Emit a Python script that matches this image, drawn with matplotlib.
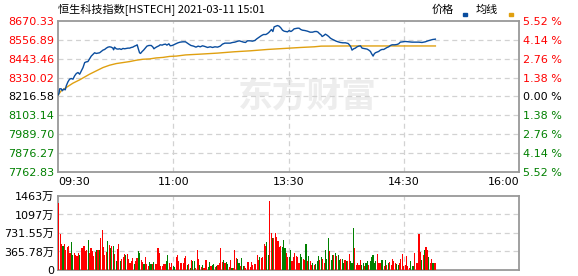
import numpy as np
import matplotlib
matplotlib.use("Agg")
import matplotlib.pyplot as plt
from matplotlib.patches import Rectangle

plt.rcParams['font.family'] = ['DejaVu Sans', 'Noto Sans CJK SC']

title = "恒生科技指数[HSTECH] 2021-03-11 15:01"
price_ticks = [8670.33, 8556.89, 8443.46, 8330.02, 8216.58, 8103.14, 7989.70, 7876.27, 7762.83]
pct_labels = ["5.52 %", "4.14 %", "2.76 %", "1.38 %", "0.00 %", "1.38 %", "2.76 %", "4.14 %", "5.52 %"]
time_ticks = [0, 82.5, 165, 247.5, 330]
time_labels = ["09:30", "11:00", "13:30", "14:30", "16:00"]
vol_ticks = [0, 365.78, 731.55, 1097.33, 1463.1]
vol_labels = ["0", "365.78万", "731.55万", "1097万", "1463万"]

# minutes since 09:30 (lunch break removed), price
price_t = [0, 0.5, 1.0, 2.1, 2.9, 3.8, 5.0, 5.7, 6.9, 8.1, 9.3, 10.5, 11.7, 12.9, 14.1,
           15.3, 16.5, 17.7, 18.9, 20.0, 21.2, 22.4, 23.6, 24.8, 26.0, 27.2, 28.4, 29.6,
           30.8, 32.0, 33.2, 34.4, 35.6, 36.7, 37.9, 39.1, 39.6, 40.3, 41.5, 42.7, 43.9,
           45.1, 46.3, 47.5, 48.7, 49.9, 51.1, 52.3, 53.4, 54.6, 55.8, 56.5, 57.3, 58.2,
           58.9, 60.1, 61.1, 62.5, 63.5, 64.9, 66.6, 67.8, 68.5, 69.4, 70.6, 72.1, 73.0,
           74.4, 75.4, 76.8, 77.8, 79.2, 80.2, 81.6, 82.6, 84.0, 85.7, 87.3, 89.2, 91.1,
           92.1, 93.5, 95.0, 96.9, 98.6, 100.2, 101.7, 103.3, 105.0, 106.9, 108.8, 110.5,
           112.2, 114.1, 116.0, 117.6, 119.3, 121.2, 123.1, 124.8, 126.5, 127.9, 129.6,
           131.2, 132.7, 134.1, 135.5, 137.4, 139.1, 140.8, 142.2, 143.9, 145.6, 147.0,
           148.7, 149.9, 151.0, 151.8, 152.7, 153.7, 154.6, 155.8, 157.0, 158.2, 159.4,
           160.6, 161.8, 163.0, 164.2, 165.4, 166.6, 167.7, 168.9, 170.1, 171.3, 172.5,
           173.7, 174.9, 176.6, 178.5, 180.4, 182.1, 183.7, 185.1, 186.1, 187.0, 188.2,
           189.0, 190.2, 191.3, 192.5, 193.7, 194.9, 196.1, 197.5, 199.0, 200.4, 202.1,
           203.8, 205.7, 207.6, 208.5, 209.5, 210.4, 211.6, 212.8, 214.0, 215.2, 216.4,
           217.6, 218.8, 220.0, 221.2, 222.4, 223.6, 224.3, 225.5, 226.2, 227.1, 228.3,
           229.5, 230.7, 231.9, 233.1, 234.3, 235.5, 236.7, 237.9, 239.1, 241.0, 242.6,
           243.8, 245.0, 246.7, 248.6, 251.0, 253.4, 255.8, 258.2, 260.5, 262.9, 264.8,
           266.5, 268.2, 270.1]
price_v = [8226, 8236, 8262, 8262, 8250, 8260, 8256, 8280, 8304, 8320, 8324, 8320, 8340, 8354, 8360,
           8350, 8370, 8390, 8420, 8424, 8426, 8443, 8459, 8469, 8479, 8475, 8477, 8479,
           8487, 8495, 8499, 8507, 8513, 8515, 8513, 8507, 8497, 8513, 8503, 8501, 8503,
           8499, 8505, 8503, 8505, 8507, 8507, 8511, 8513, 8519, 8523, 8527, 8503, 8479,
           8475, 8487, 8495, 8509, 8519, 8523, 8523, 8513, 8503, 8509, 8515, 8521, 8527,
           8525, 8529, 8531, 8525, 8533, 8521, 8523, 8527, 8533, 8539, 8543, 8545, 8545,
           8539, 8531, 8523, 8519, 8513, 8519, 8515, 8521, 8517, 8511, 8515, 8511,
           8515, 8513, 8519, 8531, 8537, 8537, 8537, 8541, 8543, 8547, 8551,
           8547, 8543, 8541, 8551, 8551, 8549, 8553, 8563, 8573, 8583, 8589,
           8589, 8595, 8603, 8611, 8619, 8607, 8635, 8639, 8643, 8639, 8629,
           8615, 8609, 8607, 8605, 8613, 8607, 8613, 8623, 8625, 8627, 8627,
           8619, 8615, 8613, 8609, 8603, 8603, 8607, 8607, 8603, 8595, 8587,
           8577, 8583, 8591, 8585, 8577, 8567, 8561, 8555, 8549, 8545, 8541,
           8539, 8539, 8535, 8527, 8515, 8495, 8503, 8507, 8515, 8519, 8521,
           8507, 8505, 8503, 8501, 8495, 8487, 8475, 8459, 8471, 8479, 8483,
           8487, 8495, 8499, 8499, 8505, 8511, 8515, 8523, 8527, 8527, 8529,
           8533, 8543, 8545, 8547, 8545, 8543, 8543, 8543, 8541, 8545, 8551,
           8555, 8559, 8561]

avg_t = [0, 2.1, 5.7, 10.5, 15.3, 22.4, 27.2, 32.0, 36.7, 41.5, 46.3, 51.1, 55.8, 60.6,
         65.4, 70.1, 74.9, 79.7, 84.5, 91.1, 102.1, 114.1, 126.0, 137.9, 149.9, 161.8,
         173.7, 183.3, 188.2, 205.7, 229.5, 253.4, 270.1]
avg_v = [8226, 8250, 8270, 8296, 8316, 8350, 8370, 8390, 8404, 8414, 8420, 8426, 8434, 8440,
         8442, 8448, 8451, 8457, 8459, 8466, 8471, 8477, 8485, 8491, 8499, 8505,
         8511, 8515, 8519, 8520, 8520, 8520, 8520]

# volume per minute (万), R = up, G = down
volume = [1320, 711, 508, 467, 521, 393, 454, 467, 339, 548,
          305, 339, 305, 271, 339, 305, 427, 427, 467, 372,
          386, 589, 339, 427, 372, 284, 359, 399, 399, 399,
          630, 792, 454, 305, 359, 569, 494, 440, 467, 467,
          318, 183, 413, 508, 183, 223, 264, 318, 291, 318,
          223, 142, 183, 237, 115, 169, 237, 366, 345, 196,
          156, 122, 264, 115, 88, 156, 115, 115, 156, 115,
          115, 427, 339, 88, 88, 115, 115, 183, 305, 142,
          61, 135, 74, 61, 264, 305, 183, 135, 135, 135,
          237, 278,
          101, 115, 47, 203, 169, 183, 47, 399, 223, 101,
          61, 101, 47, 203, 203, 68, 156, 88, 101,
          115, 68, 88, 101, 135, 427, 156, 196, 135,
          156, 115, 68, 196, 47, 47, 399, 237, 223, 135,
          88, 237, 88, 74, 34, 156, 156, 68, 156,
          101, 115, 115, 291, 196, 250, 237, 250, 508, 481,
          548, 291, 1374, 724, 630, 630, 724, 643, 575, 454,
          467, 454, 589, 440, 345, 264, 264, 386, 183, 264,
          345, 278, 264, 142, 318, 264, 223, 196, 508,
          183, 278, 169, 101,
          135, 101, 115, 183, 278, 196, 250, 210, 129, 386,
          223, 630, 372, 196, 305, 291, 345, 278, 291, 196,
          210, 223, 142, 196, 169, 183, 318, 183, 129, 833,
          427, 101, 129, 101, 196, 101, 129, 88, 129,
          169, 101, 169, 264, 305, 142, 183, 318, 142, 142,
          196, 196, 74, 196, 101, 142, 156, 101, 223,
          183, 142, 115, 101, 129, 223, 318, 74, 101, 278,
          88, 34, 183, 74, 74, 339, 129, 142, 711,
          359, 196, 305, 386, 454, 386, 264, 129, 210, 129, 142, 129]
vol_dir = ("RRRGRRRRRG" "GRRRRGRRRR" "RGRRRRRGRG" "RRRRRGRGRG" "RGRRGRRRGR"
           "RRRRGRRGGR" "RGRRRGGRGR" "RRRRRRRGGR" "RRGGRRRRRR" "RR"
           "GRGRGGRRRG" "RGRRRGGRG" "GRGRRRRGR" "GGRRGRRRGG" "RGGRRRRRR"
           "RRRRRGRRRR" "GGRRGRRRRR" "RGGGRRGGRR" "RRRRGGRRG" "RGRR"
           "GRGGGRGRRG" "GGRGGRGRGG" "RGGRGRRGGG" "RRRRRGGRG" "GRGGGGGRRR"
           "GGRGRGRRR" "RRGGRRRRRR" "RRGGGRRRR" "RGRGRRGRRGRR")

RED = '#ff0000'
GREEN = '#008000'
BLUE = '#0a4d9e'
GOLD = '#e0a010'
FRAME = '#999999'
GRID = '#d2d2d2'

fig = plt.figure(figsize=(5.78, 2.76), dpi=100)
ax = fig.add_axes([58.3 / 578, 1 - 171.7 / 276, 460.7 / 578, 150.7 / 276])
axv = fig.add_axes([58.3 / 578, 1 - 270 / 276, 460.7 / 578, 74 / 276])

# watermark
ax.text(0.54, 0.5, "东方财富", transform=ax.transAxes, ha='center', va='center',
        fontsize=25, fontweight='bold', color='#ededed', family=['Noto Sans CJK SC'],
        zorder=0)

for a in (ax, axv):
    a.set_xlim(0, 330)
    for s in a.spines.values():
        s.set_color(FRAME)
        s.set_linewidth(1.3)
    for xv in time_ticks[1:-1]:
        a.axvline(xv, color=GRID, lw=0.9, ls=(0, (4, 3)), zorder=1)

# price panel
ax.set_ylim(price_ticks[-1], price_ticks[0])
for yv in price_ticks[1:-1]:
    ax.axhline(yv, color=GRID, lw=0.9, ls=(0, (4, 3)), zorder=1)
ax.plot(avg_t, avg_v, color=GOLD, lw=1.0, zorder=3)
ax.plot(price_t, price_v, color=BLUE, lw=1.0, zorder=4)

ax.set_yticks(price_ticks)
ax.set_yticklabels(["%.2f" % v for v in price_ticks], fontsize=8)
ax.tick_params(axis='y', length=0, pad=3)
for i, lab in enumerate(ax.get_yticklabels()):
    lab.set_color(RED if i < 4 else ('black' if i == 4 else GREEN))

ax.set_xticks(time_ticks)
ax.set_xticklabels(time_labels, fontsize=8)
ax.tick_params(axis='x', length=0, pad=4)
xl = ax.get_xticklabels()
xl[0].set_ha('left')
xl[-1].set_ha('right')

axr = ax.twinx()
axr.set_ylim(ax.get_ylim())
axr.set_yticks(price_ticks)
axr.set_yticklabels(pct_labels, fontsize=8)
axr.tick_params(axis='y', length=0, pad=3)
for i, lab in enumerate(axr.get_yticklabels()):
    lab.set_color(RED if i < 4 else ('black' if i == 4 else GREEN))
for s in axr.spines.values():
    s.set_visible(False)

# volume panel
vx = np.arange(len(volume))
vcol = [RED if d == 'R' else GREEN for d in vol_dir]
axv.bar(vx, volume, width=0.8, align='edge', color=vcol, zorder=3, linewidth=0)
axv.set_ylim(0, vol_ticks[-1])
for yv in vol_ticks[1:-1]:
    axv.axhline(yv, color=GRID, lw=0.9, ls=(0, (4, 3)), zorder=1)
axv.set_yticks(vol_ticks)
axv.set_yticklabels(vol_labels, fontsize=8)
axv.tick_params(axis='y', length=0, pad=3)
axv.set_xticks([])

# header
fig.text(58 / 578, 1 - 9.5 / 276, title, fontsize=8, va='center', ha='left',
         family=['Noto Sans CJK SC', 'DejaVu Sans'])
fig.text(432 / 578, 1 - 10 / 276, "价格", fontsize=8, va='center', ha='left',
         family=['Noto Sans CJK SC'])
fig.text(476 / 578, 1 - 10 / 276, "均线", fontsize=8, va='center', ha='left',
         family=['Noto Sans CJK SC'])
fig.patches.append(Rectangle((462.5 / 578, 1 - 15.5 / 276), 4 / 578, 2.5 / 276,
                             transform=fig.transFigure, color=BLUE, figure=fig))
fig.patches.append(Rectangle((508.5 / 578, 1 - 15.5 / 276), 4 / 578, 2.5 / 276,
                             transform=fig.transFigure, color=GOLD, figure=fig))

fig.savefig("out.png", dpi=100)
